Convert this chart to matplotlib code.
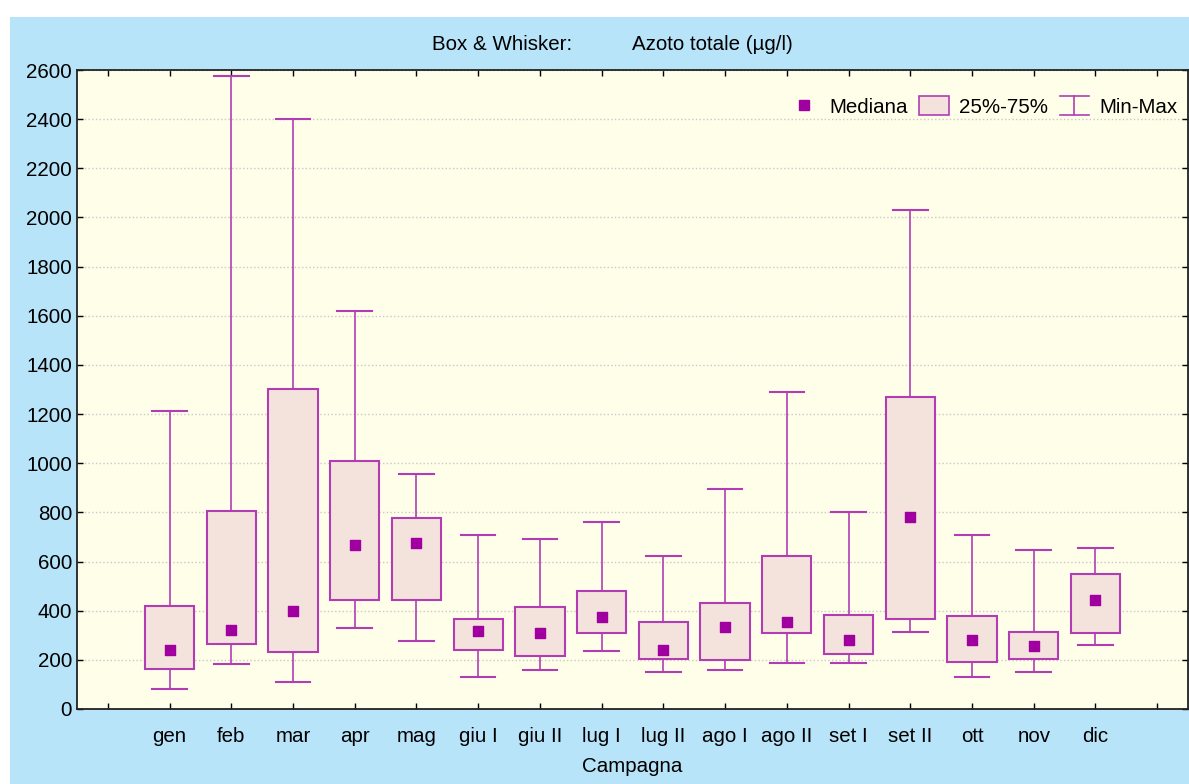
import matplotlib
matplotlib.use("Agg")
import matplotlib.pyplot as plt
from matplotlib.lines import Line2D
from matplotlib.patches import Patch, Rectangle
from matplotlib.legend_handler import HandlerBase

plt.rcParams["font.family"] = ["Liberation Sans", "DejaVu Sans"]

# --- data ---
campagne = ["gen", "feb", "mar", "apr", "mag", "giu I", "giu II", "lug I",
            "lug II", "ago I", "ago II", "set I", "set II", "ott", "nov", "dic"]
minimo = [83, 182, 110, 331, 278, 129, 159, 236, 152, 159, 187, 187, 315, 129, 152, 259]
q25 = [164, 266, 231, 443, 443, 241, 217, 309, 205, 199, 309, 223, 366, 193, 205, 309]
mediana = [239, 321, 399, 667, 675, 316, 311, 376, 239, 334, 353, 282, 781, 282, 256, 442]
q75 = [420, 806, 1302, 1009, 777, 367, 414, 480, 355, 433, 623, 384, 1270, 380, 313, 551]
massimo = [1213, 2576, 2400, 1619, 956, 708, 692, 761, 623, 895, 1290, 802, 2030, 708, 647, 655]

PANEL = "#b8e4f9"
PLOT_BG = "#fefee9"
BOX_FILL = "#f3e3dc"
EDGE = "#b23db2"
MED = "#a000a0"
FS = 14.8


class MinMaxHandler(HandlerBase):
    def create_artists(self, legend, orig_handle, xdescent, ydescent,
                       width, height, fontsize, trans):
        x0, x1 = -xdescent, -xdescent + width
        xm = (x0 + x1) / 2
        y0, y1 = -ydescent, -ydescent + height
        lines = [
            Line2D([x0, x1], [y0, y0], color=EDGE, lw=1.2, transform=trans),
            Line2D([x0, x1], [y1, y1], color=EDGE, lw=1.2, transform=trans),
            Line2D([xm, xm], [y0, y1], color=EDGE, lw=1.2, transform=trans),
        ]
        return lines


fig = plt.figure(figsize=(11.89, 7.84), dpi=100)
fig.patch.set_facecolor("white")
fig.patches.append(Rectangle((10 / 1189, 0), 1 - 10 / 1189, 1 - 17 / 784,
                             transform=fig.transFigure, facecolor=PANEL,
                             edgecolor="none", zorder=-10))

ax = fig.add_axes([77 / 1189, 75 / 784, 1111 / 1189, 639 / 784])
ax.set_facecolor(PLOT_BG)

pos = list(range(1, len(campagne) + 1))
stats = []
for i, name in enumerate(campagne):
    stats.append({"label": name, "med": mediana[i], "q1": q25[i], "q3": q75[i],
                  "whislo": minimo[i], "whishi": massimo[i], "fliers": []})

ax.bxp(stats, positions=pos, widths=0.8, capwidths=0.56, patch_artist=True,
       showfliers=False,
       boxprops=dict(facecolor=BOX_FILL, edgecolor=EDGE, linewidth=1.5),
       whiskerprops=dict(color=EDGE, linewidth=1.2),
       capprops=dict(color=EDGE, linewidth=1.5),
       medianprops=dict(linewidth=0))
ax.scatter(pos, mediana, marker="s", s=58, color=MED, zorder=5)

ax.set_xlim(-0.5, 17.5)
ax.set_ylim(0, 2600)
ax.set_xticks(range(0, 18))
ax.set_xticklabels([""] + campagne + [""])
ax.set_yticks(range(0, 2601, 200))
ax.tick_params(axis="both", direction="in", length=4, width=1, labelsize=FS,
               top=True, right=True, colors="black")
ax.tick_params(axis="x", pad=13)
ax.grid(axis="y", color="#c8c8c8", linestyle=":", linewidth=1)
ax.set_axisbelow(True)
for sp in ax.spines.values():
    sp.set_linewidth(1.3)
    sp.set_color("#222222")

ax.set_xlabel("Campagna", fontsize=FS, labelpad=8)

fig.text(432 / 1189, 1 - 45 / 784, "Box & Whisker:", ha="left", va="center",
         fontsize=FS)
fig.text(632 / 1189, 1 - 45 / 784, "Azoto totale (µg/l)", ha="left",
         va="center", fontsize=FS)

handles = [
    Line2D([], [], marker="s", linestyle="none", markersize=7.5, color=MED),
    Patch(facecolor=BOX_FILL, edgecolor=EDGE, linewidth=1.2),
    "minmax",
]
leg = ax.legend(handles, ["Mediana", "25%-75%", "Min-Max"], ncol=3,
                loc="upper right", bbox_to_anchor=(1.0, 0.975), frameon=False,
                fontsize=FS, handlelength=1.45, handleheight=1.05,
                handletextpad=0.5, columnspacing=0.55, borderaxespad=0.1,
                handler_map={str: MinMaxHandler()})

fig.savefig("out.png", dpi=100)
